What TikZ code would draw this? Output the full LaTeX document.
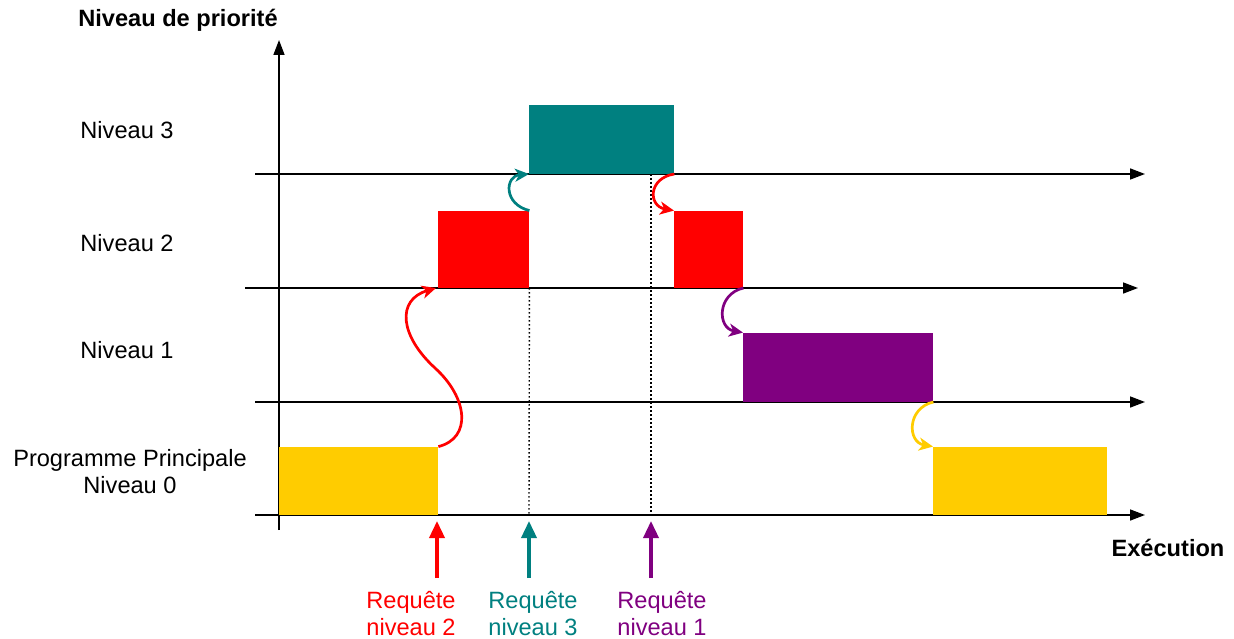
\documentclass[tikz,border=0pt]{standalone}
\usepackage{fontspec}
\setmainfont{Liberation Sans}
\usetikzlibrary{arrows.meta}

\definecolor{jaune}{HTML}{FFCC00}
\definecolor{rouge}{HTML}{FF0000}
\definecolor{sarcelle}{HTML}{008080}
\definecolor{violet}{HTML}{800080}

\tikzset{
  axe/.style={line width=1.6pt, -{Triangle[length=15pt,width=11pt]}},
  bloc/.style={draw=none, inner sep=0pt, anchor=south west},
  saut/.style={line width=2.7pt, -{Stealth[length=14pt,width=13pt,inset=4pt]}},
  requete/.style={line width=3.5pt, -{Triangle[length=17pt,width=15pt]}},
  pointille/.style={line width=1.4pt, dash pattern=on 1.6pt off 2.4pt},
  texte/.style={font=\fontsize{23.6}{27}\selectfont, align=center}
}

\begin{document}
\begin{tikzpicture}[x=1pt, y=-1pt]
\useasboundingbox (0,0) rectangle (1234,639);

\draw [axe] (279,530) -- (279,40);
\draw [axe] (255,174) -- (1145,174);
\draw [axe] (245,288) -- (1138,288);
\draw [axe] (255,402) -- (1145,402);
\draw [axe] (255,515) -- (1145,515);

\node [texte] (titre) at (178,20) {\bfseries Niveau de priorit\'e};
\node [texte] (exec) at (1168,548) {\bfseries Ex\'ecution};

\node [texte] (niv3) at (127,130) {Niveau 3};
\node [texte] (niv2) at (127,243) {Niveau 2};
\node [texte] (niv1) at (127,350) {Niveau 1};
\node [texte, text depth=0pt] (niv0) at (130,471) {Programme Principale\\Niveau 0};

\node [bloc, fill=jaune, minimum width=159pt, minimum height=68pt] (prog1) at (279,515) {};
\node [bloc, fill=rouge, minimum width=91pt, minimum height=77pt] (it2a) at (438,288) {};
\node [bloc, fill=sarcelle, minimum width=145pt, minimum height=69pt] (it3) at (529,174) {};
\node [bloc, fill=rouge, minimum width=69pt, minimum height=77pt] (it2b) at (674,288) {};
\node [bloc, fill=violet, minimum width=190pt, minimum height=69pt] (it1) at (743,402) {};
\node [bloc, fill=jaune, minimum width=174pt, minimum height=68pt] (prog2) at (933,515) {};

\coordinate (bas3) at (529,515);
\coordinate (haut1) at (651,174);
\coordinate (bas1) at (651,515);
\draw [pointille] (it2a.south east) -- (bas3);
\draw [pointille] (haut1) -- (bas1);

\draw [saut, rouge] (prog1.north east) .. controls (472,438) and (468,398) .. (435,368)
  .. controls (400,336) and (396,300) .. (436,288);
\draw [saut, sarcelle] (it2a.north east) .. controls (503,204) and (505,176) .. (it3.south west);
\draw [saut, rouge] (it3.south east) .. controls (648,178) and (648,206) .. (it2b.north west);
\draw [saut, violet] (it2b.south east) .. controls (717,294) and (717,328) .. (it1.north west);
\draw [saut, jaune] (it1.south east) .. controls (907,408) and (907,442) .. (prog2.north west);

\node [texte, rouge] (req2) at (411,614) {Requ\^ete\\niveau 2};
\node [texte, sarcelle] (req3) at (533,614) {Requ\^ete\\niveau 3};
\node [texte, violet] (req1) at (662,614) {Requ\^ete\\niveau 1};

\coordinate (pied2) at (437,578);
\coordinate (pied3) at (529,578);
\coordinate (pied1) at (651,578);
\coordinate (tete2) at (437,521);
\coordinate (tete3) at (529,521);
\coordinate (tete1) at (651,521);
\draw [requete, rouge] (pied2) -- (tete2);
\draw [requete, sarcelle] (pied3) -- (tete3);
\draw [requete, violet] (pied1) -- (tete1);
\end{tikzpicture}
\end{document}
